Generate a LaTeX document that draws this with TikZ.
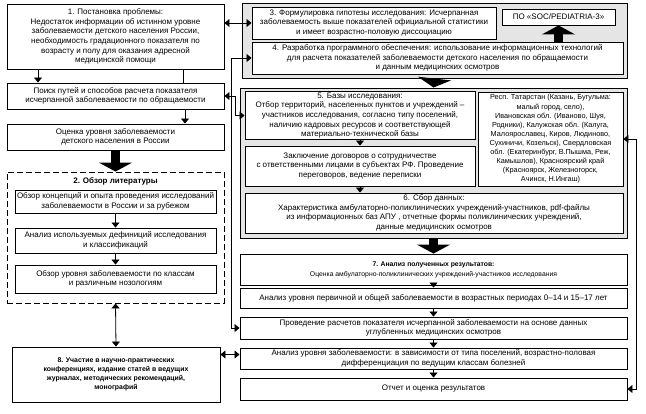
\documentclass[tikz,border=0pt]{standalone}
\usepackage{fontspec}
\setmainfont{Liberation Sans}
\usetikzlibrary{arrows.meta}
\begin{document}
\begin{tikzpicture}[x=1pt, y=-1pt,
    box/.style={draw, line width=0.9pt, fill=white, align=center, inner sep=1pt,
        font=\fontsize{8}{9.6}\selectfont},
    grp/.style={draw, line width=1pt, fill=black!10},
    dgrp/.style={draw, line width=0.9pt, dash pattern=on 6pt off 3pt},
    conn/.style={line width=0.8pt, >={Triangle[width=8pt,length=5pt]}},
    bigarr/.style={line width=9pt, -{Triangle[width=33pt,length=9pt]}}]
    \useasboundingbox (0,0) rectangle (646,413);
    % containers
    \node[grp, minimum width=385pt, minimum height=75pt] (g34) at (434.5,40.5) {};
    \node[grp, minimum width=387pt, minimum height=150pt] (g56) at (433.5,163) {};
    \node[dgrp, minimum width=217pt, minimum height=131pt] (lit) at (115.5,237.5) {};
    % left column
    \node[box, minimum width=217pt, minimum height=65pt] (p1) at (115.5,36.5)
        {1. Постановка проблемы:\\ Недостаток информации об истинном уровне\\
         заболеваемости детского населения России,\\ необходимость градационного показателя по\\
         возрасту и полу для оказания адресной\\ медицинской помощи};
    \node[box, minimum width=217pt, minimum height=26pt] (search) at (115.5,96)
        {Поиск путей и способов расчета показателя\\ исчерпанной заболеваемости по обращаемости};
    \node[box, minimum width=217pt, minimum height=26pt] (estim) at (115.5,137)
        {Оценка уровня заболеваемости\\ детского населения в России};
    \node[font=\fontsize{8}{9.6}\selectfont\bfseries, inner sep=0pt] (littitle) at (115.5,181)
        {2. Обзор литературы};
    \node[box, minimum width=201pt, minimum height=23pt] (rev1) at (115.5,201.5)
        {Обзор концепций и опыта проведения исследований\\ заболеваемости в России и за рубежом};
    \node[box, minimum width=201pt, minimum height=25pt] (rev2) at (115.5,240.5)
        {Анализ используемых дефиниций исследования\\ и классификаций};
    \node[box, minimum width=201pt, minimum height=28pt] (rev3) at (115.5,279)
        {Обзор уровня заболеваемости по классам\\ и различным нозологиям};
    \node[box, minimum width=208pt, minimum height=55pt, font=\fontsize{6.9}{9}\selectfont\bfseries]
        (p8) at (116,374.5)
        {8. Участие в научно-практических\\ конференциях, издание статей в ведущих\\
         журналах, методических рекомендаций,\\ монографий};
    % right column
    \node[box, minimum width=244pt, minimum height=32pt] (p3) at (374,23)
        {3. Формулировка гипотезы исследования: Исчерпанная\\
         заболеваемость выше показателей официальной статистики\\
         и имеет возрастно-половую диссоциацию};
    \node[box, minimum width=113pt, minimum height=16pt] (soft) at (558.5,17)
        {ПО «SOC/PEDIATRIA-3»};
    \node[box, minimum width=371pt, minimum height=32pt] (p4) at (437.5,58)
        {4. Разработка программного обеспечения: использование информационных технологий\\
         для расчета показателей заболеваемости детского населения по обращаемости\\
         и данным медицинских осмотров};
    \node[box, minimum width=230pt, minimum height=47pt] (p5) at (360,115.5)
        {5. Базы исследования:\\ Отбор территорий, населенных пунктов и учреждений –\\
         участников исследования, согласно типу поселений,\\ наличию кадровых ресурсов и соответствующей\\
         материально-технической базы};
    \node[box, minimum width=230pt, minimum height=40pt] (contr) at (360,166)
        {Заключение договоров о сотрудничестве\\ с ответственными лицами в субъектах РФ. Проведение\\
         переговоров, ведение переписки};
    \node[box, minimum width=145pt, minimum height=94pt, font=\fontsize{7.3}{9.1}\selectfont] (reg) at (550.5,139)
        {Респ. Татарстан (Казань, Бугульма:\\ малый город, село),\\ Ивановская обл. (Иваново, Шуя,\\
         Родники), Калужская обл. (Калуга,\\ Малоярославец, Киров, Людиново,\\
         Сухиничи, Козельск), Свердловская\\ обл. (Екатеринбург, В.Пышма, Реж,\\
         Камышлов), Красноярский край\\ (Красноярск, Железногорск,\\ Ачинск, Н.Ингаш)};
    \node[box, minimum width=378pt, minimum height=40pt] (p6) at (434,213)
        {6. Сбор данных:\\ Характеристика амбулаторно-поликлинических учреждений-участников, pdf-файлы\\
         из информационных баз АПУ , отчетные формы поликлинических учреждений,\\
         данные медицинских осмотров};
    \node[box, minimum width=387pt, minimum height=31pt, font=\fontsize{6.8}{10}\selectfont] (p7) at (433.5,269.5)
        {\textbf{7. Анализ полученных результатов:}\\
         Оценка амбулаторно-поликлинических учреждений-участников исследования};
    \node[box, minimum width=387pt, minimum height=20pt] (an1) at (433.5,298)
        {Анализ уровня первичной и общей заболеваемости в возрастных периодах 0–14 и 15–17 лет};
    \node[box, minimum width=387pt, minimum height=22pt] (calc) at (433.5,328)
        {Проведение расчетов показателя исчерпанной заболеваемости на основе данных\\
         углубленных медицинских осмотров};
    \node[box, minimum width=387pt, minimum height=21pt] (an2) at (433.5,358.5)
        {Анализ уровня заболеваемости: в зависимости от типа поселений, возрастно-половая\\
         дифференциация по ведущим классам болезней};
    \node[box, minimum width=387pt, minimum height=22pt] (rep) at (433.5,389)
        {Отчет и оценка результатов};
    \coordinate (busA) at (231,0);
    \coordinate (busB) at (235,0);
    \coordinate (busC) at (636,0);
    % connectors
    \draw[conn, ->] ([xshift=-77.5pt]p1.south) -- ([xshift=-77.5pt]search.north);
    \draw[conn] ([xshift=67.5pt]p1.south) -- ([xshift=67.5pt]search.north);
    \draw[conn, ->] ([xshift=69.5pt]search.south) -- ([xshift=69.5pt]estim.north);
    \draw[conn, ->] (rev1) -- (rev2);
    \draw[conn, ->] (rev2) -- (rev3);
    \draw[conn, <->] (lit.south) -- (p8.north);
    \draw[conn, <->] (p3.west -| p1.east) -- (p3.west);
    \draw[conn, <->] (p4.west) -- (p4.west -| busA) -- (calc.west -| busA) -- (calc.west);
    \draw[conn, <->] (search.east) -- (search.east -| busB) -- (p5.west -| busB) -- (p5.west);
    \draw[conn, <->] ([yshift=4pt]an2.west -| p8.east) -- ([yshift=4pt]an2.west);
    \draw[conn, <->] (reg.east) -- (reg.east -| busC) -- (rep.east -| busC) -- (rep.east);
    \draw[conn, ->] (p5) -- (contr);
    \draw[conn, ->] (contr.south) -- (contr.south |- p6.north);
    \draw[conn, ->] (p7) -- (an1);
    \draw[conn, ->] (an1) -- (calc);
    \draw[conn, ->] (calc) -- (an2);
    \draw[conn, ->] (an2) -- (rep);
    \draw[bigarr] (estim.south) -- (lit.north);
    \draw[bigarr] (p4.north -| soft.south) -- (soft.south);
    \draw[bigarr] (g34.south) -- (g56.north);
    \draw[bigarr] (g56.south) -- (p7.north);
\end{tikzpicture}
\end{document}
